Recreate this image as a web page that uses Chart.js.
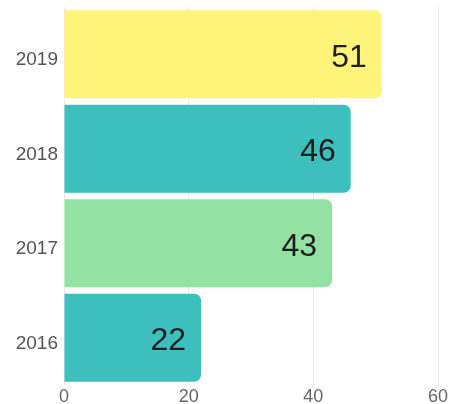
<!DOCTYPE html>
<html>
<head>
<meta charset="utf-8">
<script src="https://cdn.jsdelivr.net/npm/chart.js@4"></script>
<style>
html,body{margin:0;padding:0;background:#fff;}
#wrap{width:451px;height:404px;position:relative;}
</style>
</head>
<body>
<div id="wrap"><canvas id="c" width="451" height="404"></canvas></div>
<script>
const categories = ['2019', '2018', '2017', '2016'];
const values = [51, 46, 43, 22];
const barColors = ['#FFF47A', '#3DBFBE', '#93E2A3', '#3DBFBE'];
const xTicks = [0, 20, 40, 60];

const valueLabels = {
  id: 'valueLabels',
  afterDatasetsDraw(chart) {
    const ctx = chart.ctx;
    const meta = chart.getDatasetMeta(0);
    ctx.save();
    ctx.font = '32px "Liberation Sans", Arial, sans-serif';
    ctx.fillStyle = '#1e1e1e';
    ctx.textAlign = 'right';
    ctx.textBaseline = 'middle';
    meta.data.forEach((bar, i) => {
      ctx.fillText(String(values[i]), bar.x - 15, bar.y + 3.5);
    });
    ctx.restore();
  }
};

new Chart(document.getElementById('c'), {
  type: 'bar',
  data: {
    labels: categories,
    datasets: [{
      data: values,
      backgroundColor: barColors,
      borderWidth: 0,
      borderRadius: 7,
      borderSkipped: 'start',
      categoryPercentage: 1,
      barPercentage: 0.93
    }]
  },
  options: {
    indexAxis: 'y',
    responsive: false,
    animation: false,
    layout: { padding: { top: 7, right: 13, left: 0, bottom: 0 } },
    plugins: { legend: { display: false }, tooltip: { enabled: false } },
    scales: {
      x: {
        min: xTicks[0],
        max: xTicks[xTicks.length - 1],
        afterBuildTicks(s) { s.ticks = xTicks.map(v => ({ value: v })); },
        afterFit(s) { s.height = 19; },
        border: { display: false },
        grid: { color: '#ebebeb', drawTicks: false, lineWidth: 1 },
        ticks: { padding: 1, color: '#666', font: { size: 18, family: '"Liberation Sans", Arial, sans-serif' } }
      },
      y: {
        afterFit(s) { s.width = 64; s.paddingTop = 0; s.paddingBottom = 0; },
        border: { display: false },
        grid: { display: false, drawTicks: false },
        ticks: { padding: 6, labelOffset: 6, color: '#555', font: { size: 19, family: '"Liberation Sans", Arial, sans-serif' } }
      }
    }
  },
  plugins: [valueLabels]
});
</script>
</body>
</html>
